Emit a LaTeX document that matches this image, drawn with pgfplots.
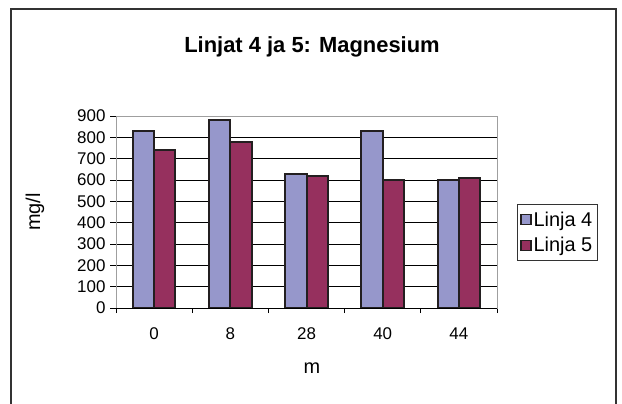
\documentclass[border=0pt]{standalone}
\usepackage{pgfplots}
\pgfplotsset{compat=1.18}
\usepackage{fontspec}
\setmainfont{Liberation Sans}
\definecolor{linjaA}{RGB}{150,151,203}
\definecolor{linjaB}{RGB}{150,48,94}
\definecolor{barline}{RGB}{35,31,32}
\begin{document}
\begin{tikzpicture}[x=1bp,y=1bp]
\useasboundingbox (0,0) rectangle (622,403);
\draw[line width=1.4bp, color=black!80] (11,-2) -- (11,394) -- (616,394) -- (616,-2);
\node[font=\bfseries\fontsize{22}{26}\selectfont] at (312,356) {Linjat 4 ja 5: Magnesium};
\node[font=\fontsize{20}{24}\selectfont, rotate=90] at (35,191) {mg/l};
\node[font=\fontsize{20}{24}\selectfont] at (312,35) {m};
\begin{axis}[
  at={(116bp,95bp)}, anchor=south west,
  width=381bp, height=192bp, scale only axis,
  ymin=0, ymax=900, ytick={0,100,...,900},
  xmin=-0.5, xmax=4.5,
  xtick={0,...,4}, xticklabels={0,8,28,40,44},
  minor xtick={-0.5,0.5,...,4.5},
  major x tick style={draw=none},
  minor x tick style={black, line width=0.8bp},
  major y tick style={black, line width=0.8bp},
  tick align=outside,
  major tick length=6bp, minor tick length=5bp,
  xtick pos=bottom, ytick pos=left,
  ymajorgrids, grid style={black, line width=0.6bp},
  axis line style={draw=gray!75, line width=1bp},
  /pgf/number format/assume math mode=true,
  tick label style={font=\fontsize{17}{20}\selectfont},
  xticklabel style={yshift=-10bp},
  yticklabel style={xshift=-1bp},
  ybar, bar width=0.28,
  legend style={draw=black!80, line width=0.8bp, at={(1.0525,0.393)}, anchor=west,
    font=\fontsize{20}{23}\selectfont, row sep=6bp, inner xsep=3bp, inner ysep=5bp},
  legend cell align=left,
  legend image code/.code={\draw[#1, line width=1.2bp] (0bp,-5bp) rectangle (10bp,5bp);},
]
\addplot[fill=linjaA, draw=barline, line width=2bp, bar shift=-0.14] coordinates {(0,830) (1,880) (2,630) (3,830) (4,600)};
\addplot[fill=linjaB, draw=barline, line width=2bp, bar shift=0.14] coordinates {(0,740) (1,780) (2,620) (3,600) (4,610)};
\legend{Linja 4, Linja 5}
\draw[black, line width=1bp] (axis cs:-0.5,0) -- (axis cs:4.5,0);
\end{axis}
\end{tikzpicture}
\end{document}
